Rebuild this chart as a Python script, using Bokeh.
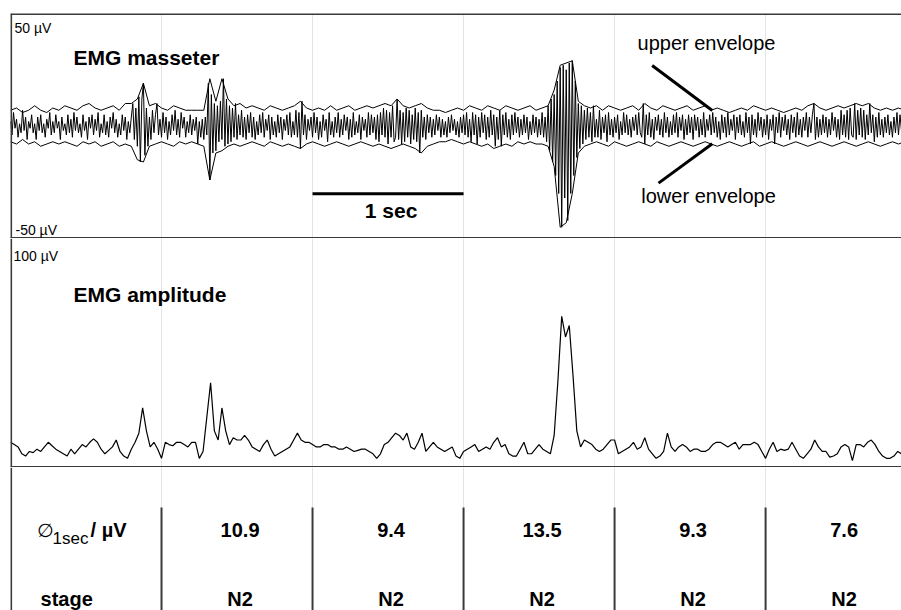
import numpy as np
from bokeh.plotting import figure
from bokeh.models import Range1d, Label, Span, Grid, FixedTicker
from bokeh.layouts import column
from bokeh.embed import file_html
from bokeh.resources import INLINE
from bokeh.core.properties import value

# ---------------- data ----------------
RAW_DT = 0.01          # s between raw samples
raw_emg = [            # µV
    2,-4,6,-1,3,-5,1,-3,7,-2,4,-6,2,-1,5,-3,1,-6,4,-2,
    5,-3,1,-5,3,-1,6,-4,2,-3,5,-1,2,-6,4,-2,1,-4,5,-3,
    3,-5,6,-2,4,-3,1,-5,5,-2,2,-6,4,-1,5,-4,3,-2,6,-5,
    1,-3,5,-4,2,-5,4,-1,6,-3,3,-5,1,-4,5,-2,4,-6,2,-3,
    4,10,-6,8,-9,13,-16,12,19,-13,8,-9,4,-6,7,-3,5,10,-4,3,
    -5,6,-3,4,-6,2,-4,5,-2,7,-4,3,-5,6,-1,4,-5,2,-3,5,
    -4,3,-2,4,-8,2,-5,3,-6,4,-4,19,-24,14,-12,10,-11,9,-7,11,
    -6,21,-9,12,-8,9,-7,8,-5,10,-6,5,-4,7,-5,4,-6,5,-3,6,
    -5,4,-6,2,-4,5,-3,6,-5,3,-2,5,-6,4,-4,2,-5,5,-3,4,
    -6,3,-2,5,-4,6,-5,2,-4,7,-5,6,-10,11,-4,5,-6,3,-2,4,
    -5,6,-3,4,-6,2,-5,5,-2,3,-7,6,-4,2,-5,4,-3,6,-5,3,
    -4,5,-2,4,-6,3,-5,6,-4,2,-3,5,-6,4,-2,3,-5,6,-4,5,
    -3,4,-6,5,-7,6,-4,8,-5,7,-8,6,-5,9,-7,-5,12,-6,7,-8,
    6,-7,8,-5,7,-8,5,-6,8,-7,6,-12,7,-5,4,-6,5,-3,4,-5,
    3,-4,5,-2,4,-5,3,-4,2,-5,4,-3,5,-2,3,-4,2,-5,4,-3,
    5,-4,6,-5,3,-7,6,-4,5,-8,4,-5,6,-3,5,-6,4,-5,7,-4,
    5,-9,4,-6,7,-9,5,-4,6,-5,3,-6,5,-4,6,-3,4,-5,3,-4,
    5,-3,4,-6,2,-4,5,-3,4,-5,3,-4,6,-5,4,-7,9,-11,12,-16,
    14,-22,20,-30,26,-45,27,-32,25,-42,28,-30,29,-22,20,-14,10,-10,9,-8,
    7,-6,8,-5,6,-7,9,-5,3,-5,7,-6,4,-3,5,-7,6,-4,3,-5,
    4,-3,5,-6,2,-4,6,-3,5,-4,3,-5,4,-2,5,-4,6,-3,-5,10,
    -8,5,-4,6,-5,3,-6,4,-2,5,-4,3,-5,6,-3,4,-5,2,-4,5,
    -3,6,-5,4,-2,5,-6,3,-4,5,-3,4,-6,5,-2,4,-5,3,-4,6,
    -5,3,-2,5,-4,6,-3,4,-5,2,-6,5,-3,4,-5,6,-4,3,-2,5,
    -6,4,-3,5,-4,2,-5,6,-3,4,-8,5,-4,3,-5,6,-2,4,-5,3,
    -4,5,-6,3,-2,5,-8,4,-3,6,-5,4,-2,5,-4,3,-6,5,-3,4,
    -5,6,-4,3,-5,4,-2,6,-5,4,-3,5,10,-6,4,-5,3,-4,5,-3,
    4,-5,3,-4,6,-2,4,-5,3,-6,7,-4,5,-5,7,-6,8,-4,-5,10,
    -6,7,-4,8,-5,7,-6,5,-4,10,-3,5,-7,4,-5,6,-4,3,-5,4,
    -3,5,-4,2,-5,4,-3,6,-4,5,-2,
]

ENV_DT = 0.04          # s between envelope samples
upper_envelope = [     # µV
    7,8,6,7,9,7,6,8,7,9,
    8,7,9,10,8,7,8,9,7,10,
    10,12,19,9,10,8,7,9,8,7,
    7,7,7,21,11,21,12,9,10,8,
    9,8,7,9,8,7,8,9,11,8,
    7,8,7,9,7,8,9,7,8,9,
    8,9,10,9,12,9,8,9,10,8,
    7,7,6,7,8,7,9,8,7,9,
    8,7,9,8,7,8,9,7,8,9,
    16,27,28,29,11,9,8,9,7,9,
    8,7,8,9,7,10,8,7,9,8,
    7,8,9,7,8,9,7,8,7,6,
    7,8,7,9,8,7,8,7,6,7,
    8,7,9,10,8,7,8,9,8,9,
    10,9,10,8,7,8,7,8,7,
]
lower_envelope = [     # µV
    -7,-8,-6,-8,-7,-9,-8,-7,-8,-7,
    -8,-9,-7,-8,-7,-9,-8,-7,-9,-8,
    -9,-15,-16,-9,-8,-7,-8,-9,-7,-8,
    -7,-8,-9,-24,-12,-11,-9,-8,-9,-8,
    -7,-8,-9,-7,-8,-9,-8,-9,-10,-8,
    -7,-8,-9,-8,-7,-8,-9,-8,-7,-8,
    -9,-8,-9,-10,-9,-8,-9,-10,-12,-9,
    -8,-7,-7,-6,-7,-8,-7,-8,-9,-8,
    -10,-9,-8,-9,-7,-8,-7,-8,-8,-9,
    -18,-45,-43,-30,-12,-9,-8,-7,-8,-9,
    -7,-8,-9,-8,-7,-8,-9,-7,-8,-9,
    -8,-7,-8,-9,-8,-7,-8,-9,-8,-7,
    -8,-9,-8,-7,-9,-8,-7,-8,-9,-8,
    -7,-8,-9,-8,-7,-8,-9,-8,-7,-8,
    -9,-8,-7,-8,-9,-8,-7,-8,-7,
]

AMP_DT = 0.025         # s between amplitude samples
emg_amplitude = [      # µV
    11,10,9,6,5,7,6.5,8,7,9,
    11,9.5,8,7,6,5,8,6,8,10,
    9,11,12.5,11,8,6,7.5,9,12,7,
    5,4,8,11,15,26,16,9,11,8,
    4,11,10,9.5,11,11,10,9,11,11,
    4,7,22,37,16,12,26,16,10,13,
    12,12,14,12,9,8,7,10,12,8,
    5,6,7,8,9,12,15,12,11,11,
    10,9,9,10,10,9,9,8,8,9,
    8,7,7.5,8,8,7,6,4,6,10,
    11,13,15,14,12,15,9,8,11,15,
    7,9,11,9,8,7,8,9,5,4,
    7,8,9,10,7,8,9,8,11,13,
    9,10,6,5,5,8,11,6,6,8,
    10,8,7,6,14,38,66,57,62,40,
    16,9,12,11,10,8,7,8,10,12,
    12,6,7,8,9,11,8,9,13,8,
    6,4,5,7,15,9,7,9,10,9,
    7,8,8,7,7,8,10,11,11,10,
    9,10,11,8,10,10,10,11,10,7,
    4,8,11,7,8,7.5,8,11,8,5,
    4,6,8,12,9,7,7,4.5,5,6,
    9,10,9,3,10,10,9,11,12,10,
    7,5,4,4,5,7,6,
]

second_marks = [1, 2, 3, 4, 5]
column_centers = [1.5, 2.5, 3.5, 4.5, 5.5]
mean_amplitude = ["10.9", "9.4", "13.5", "9.3", "7.6"]
sleep_stage = ["N2", "N2", "N2", "N2", "N2"]
scale_bar_sec = [2.0, 3.0]

# ---------------- styling ----------------
FONT = "Liberation Sans"
BORDER = "#3a3a3a"
GRID = "#e4e4e4"
W = 901

t_raw = np.arange(len(raw_emg)) * RAW_DT
t_env = np.arange(len(upper_envelope)) * ENV_DT
t_amp = np.arange(len(emg_amplitude)) * AMP_DT

x_range = Range1d(0, 5.90)


def panel(height, y0, y1, top=0):
    p = figure(width=W, height=height, x_range=x_range, y_range=Range1d(y0, y1),
               output_backend="svg", toolbar_location=None,
               x_axis_location=None, y_axis_location=None,
               min_border_left=10, min_border_right=0,
               min_border_top=top, min_border_bottom=0)
    p.outline_line_color = None
    p.grid.visible = False
    p.add_layout(Grid(dimension=0, ticker=FixedTicker(ticks=second_marks),
                      grid_line_color=GRID, grid_line_width=1))
    p.background_fill_color = "white"
    p.border_fill_color = "white"
    p.add_layout(Span(location=0.004, dimension="height", line_color=BORDER, line_width=2))
    return p


def label(p, x, y, text, size="20px", style="normal", align="left", font=FONT):
    p.add_layout(Label(x=x, y=y, text=text, text_font=font, text_font_size=size,
                       text_font_style=style, text_align=align,
                       text_baseline="middle", text_color="black"))


# ---------------- top: raw EMG ----------------
p1 = panel(238, -50, 50, top=13)
p1.add_layout(Span(location=49.75, dimension="width", line_color=BORDER, line_width=2))
p1.add_layout(Span(location=-49.75, dimension="width", line_color=BORDER, line_width=2))
p1.line(t_raw, raw_emg, line_color="black", line_width=1)
p1.line(t_env, upper_envelope, line_color="black", line_width=1)
p1.line(t_env, lower_envelope, line_color="black", line_width=1)
label(p1, 0.026, 43.7, "50 µV", size="14px")
label(p1, 0.033, -46.4, "-50 µV", size="14px")
label(p1, 0.417, 30.3, "EMG masseter", size="21px", style="bold")
label(p1, 4.152, 37.1, "upper envelope")
label(p1, 4.177, -31.1, "lower envelope")
p1.segment(x0=[4.249, 4.291], y0=[26.9, -25.4], x1=[4.647, 4.647], y1=[6.9, -7.9],
           line_color="black", line_width=3)
p1.segment(x0=[scale_bar_sec[0]], y0=[-30.1], x1=[scale_bar_sec[1]], y1=[-30.1],
           line_color="black", line_width=3)
label(p1, sum(scale_bar_sec) / 2 + 0.02, -37.5, "1 sec", size="21px", style="bold",
      align="center")

# ---------------- middle: EMG amplitude ----------------
p2 = panel(229, 0, 100)
p2.add_layout(Span(location=0.2, dimension="width", line_color=BORDER, line_width=2))
p2.line(t_amp, emg_amplitude, line_color="black", line_width=1.2)
label(p2, 0.02, 92.3, "100 µV", size="14px")
label(p2, 0.417, 75.6, "EMG amplitude", size="21px", style="bold")

# ---------------- bottom: table ----------------
p3 = panel(143, -0.162, 1.902)
p3.segment(x0=second_marks, y0=[1.325] * 5, x1=second_marks, y1=[-0.162] * 5,
           line_color=BORDER, line_width=2)
p3.text(x=[c + 0.02 for c in column_centers], y=[1] * 5, text=mean_amplitude,
        text_font=value(FONT), text_font_size="20px", text_font_style="bold",
        text_align="center", text_baseline="middle", text_color="black")
p3.text(x=[c + 0.02 for c in column_centers], y=[0] * 5, text=sleep_stage,
        text_font=value(FONT), text_font_size="20px", text_font_style="bold",
        text_align="center", text_baseline="middle", text_color="black")
label(p3, 0.175, 1.0, "∅", size="19px", style="italic", font="DejaVu Sans")
label(p3, 0.278, 0.873, "1sec", size="17px")
label(p3, 0.53, 1, "/ µV", style="bold")
label(p3, 0.199, 0, "stage", style="bold")

layout = column(p1, p2, p3)
open("out.html", "w").write(file_html(layout, INLINE))
